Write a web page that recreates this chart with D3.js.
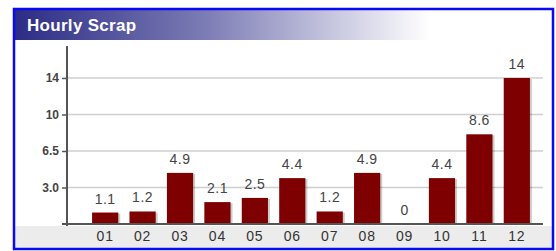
<!DOCTYPE html>
<html>
<head>
<meta charset="utf-8">
<script src="https://cdn.jsdelivr.net/npm/d3@7"></script>
<style>
  body { margin: 0; background: #fff; }
  svg { display: block; font-family: "Liberation Sans", Arial, sans-serif; }
</style>
</head>
<body>
<script>
// chart values

var hours = ['01', '02', '03', '04', '05', '06', '07', '08', '09', '10', '11', '12'];
var scrap = [1.1, 1.2, 4.9, 2.1, 2.5, 4.4, 1.2, 4.9, 0, 4.4, 8.6, 14];

// the axis puts its ticks at even steps but labels them oddly
var tickValues = [3.5, 7, 10.5, 14];
var tickLabels = ['3.0', '6.5', '10', '14'];

var width = 556,
    height = 251;

var svg = d3.select('body')
  .append('svg')
  .attr('width', width)
  .attr('height', height);

var defs = svg.append('defs');

var grad = defs.append('linearGradient')
  .attr('id', 'titleGrad')
  .attr('gradientUnits', 'userSpaceOnUse')
  .attr('x1', 15).attr('x2', 430)
  .attr('y1', 0).attr('y2', 0);
grad.append('stop').attr('offset', '0%').attr('stop-color', '#2c2c86');
grad.append('stop').attr('offset', '45%').attr('stop-color', '#7a7ab4');
grad.append('stop').attr('offset', '100%').attr('stop-color', '#ffffff');

// frame
svg.append('rect')
  .attr('x', 14).attr('y', 9)
  .attr('width', 539).attr('height', 240)
  .attr('fill', '#fff');

// title bar
svg.append('rect')
  .attr('x', 14).attr('y', 9)
  .attr('width', 539).attr('height', 31)
  .attr('fill', 'url(#titleGrad)');

svg.append('text')
  .attr('x', 27).attr('y', 31)
  .attr('fill', '#fff')
  .attr('font-size', 17)
  .attr('font-weight', 'bold')
  .attr('letter-spacing', 0.3)
  .text('Hourly Scrap');

// grey strip under the axis
svg.append('rect')
  .attr('x', 14).attr('y', 226)
  .attr('width', 539).attr('height', 23)
  .attr('fill', '#ececec');

var x = d3.scaleBand()
  .domain(hours)
  .range([67, 555])
  .paddingInner(0.3)
  .paddingOuter(0.67);

var y = d3.scaleLinear()
  .domain([0, 17])
  .range([224, 224 - 17 * 10.43]);

// gridlines
svg.append('g')
  .selectAll('line')
  .data(tickValues)
  .enter().append('line')
  .attr('x1', 67).attr('x2', 543)
  .attr('y1', function(d) { return y(d); })
  .attr('y2', function(d) { return y(d); })
  .attr('stroke', '#cfcfcf')
  .attr('stroke-width', 1.5);

// bars, with a soft shadow on the right
var bars = svg.append('g');

bars.selectAll('rect.shadow')
  .data(scrap)
  .enter().append('rect')
  .attr('class', 'shadow')
  .attr('x', function(d, i) { return x(hours[i]) + 2; })
  .attr('y', function(d) { return y(d) + 1; })
  .attr('width', x.bandwidth())
  .attr('height', function(d) { return y(0) - y(d); })
  .attr('fill', '#000')
  .attr('opacity', function(d) { return d > 0 ? 0.2 : 0; });

bars.selectAll('rect.bar')
  .data(scrap)
  .enter().append('rect')
  .attr('class', 'bar')
  .attr('x', function(d, i) { return x(hours[i]); })
  .attr('y', function(d) { return y(d); })
  .attr('width', x.bandwidth())
  .attr('height', function(d) { return y(0) - y(d); })
  .attr('fill', '#7f0000');

// value labels
svg.append('g')
  .selectAll('text')
  .data(scrap)
  .enter().append('text')
  .attr('x', function(d, i) { return x(hours[i]) + x.bandwidth() / 2; })
  .attr('y', function(d) { return y(d) - 9; })
  .attr('text-anchor', 'middle')
  .attr('font-size', 14)
  .attr('letter-spacing', 0.5)
  .attr('fill', '#444')
  .text(function(d) { return d; });

// y axis
var yAxis = d3.axisLeft(y)
  .tickValues(tickValues)
  .tickFormat(function(d, i) { return tickLabels[i]; })
  .tickSize(5)
  .tickSizeOuter(0);

var gy = svg.append('g')
  .attr('transform', 'translate(67,0)')
  .call(yAxis);

gy.select('.domain').remove();
gy.append('line')
  .attr('x1', 0).attr('x2', 0)
  .attr('y1', 46).attr('y2', 226)
  .attr('stroke', '#555')
  .attr('stroke-width', 2);
gy.selectAll('.tick line').attr('stroke', '#555').attr('stroke-width', 1.5);
gy.selectAll('.tick text')
  .attr('x', -8)
  .attr('font-size', 12)
  .attr('font-weight', 'bold')
  .attr('font-family', null)
  .attr('fill', '#444');

// x axis
var xAxis = d3.axisBottom(x)
  .tickSize(0)
  .tickPadding(7);

var gx = svg.append('g')
  .attr('transform', 'translate(0,224)')
  .call(xAxis);

gx.select('.domain').remove();
gx.append('line')
  .attr('x1', 62).attr('x2', 543)
  .attr('y1', 0).attr('y2', 0)
  .attr('stroke', '#555')
  .attr('stroke-width', 2);
gx.selectAll('.tick text')
  .attr('font-size', 14)
  .attr('letter-spacing', 0.8)
  .attr('font-family', null)
  .attr('fill', '#333');

// blue border
svg.append('rect')
  .attr('x', 14).attr('y', 9)
  .attr('width', 539).attr('height', 240)
  .attr('fill', 'none')
  .attr('stroke', '#0a0af0')
  .attr('stroke-width', 2.5);
</script>
</body>
</html>
